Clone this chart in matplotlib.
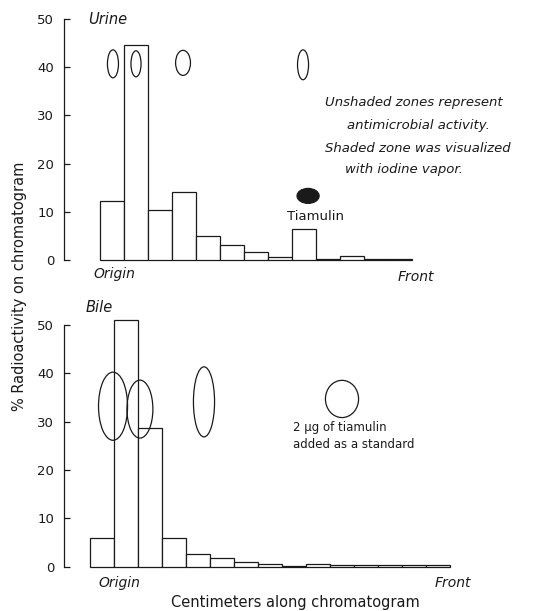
"""Distribution of radioactivity along chromatograms of urine and bile."""

import matplotlib
matplotlib.use('Agg')
import matplotlib.pyplot as plt
from matplotlib.patches import Ellipse

# Radioactivity (% on chromatogram) per 1-cm strip, origin -> front
urine_pct = [12.3, 44.6, 10.3, 14.2, 5.0, 3.2, 1.6, 0.7, 6.5, 0.3, 0.8, 0.3, 0.3]
bile_pct = [6.0, 51.0, 28.7, 6.0, 2.7, 1.7, 1.0, 0.5, 0.2, 0.55, 0.4, 0.4, 0.4, 0.35, 0.35]
y_ticks = [0, 10, 20, 30, 40, 50]

W, H = 533, 611
LINE = '#1a1a1a'
plt.rcParams['font.family'] = 'DejaVu Sans'


def px_rect(left, top, right, bottom):
    """Convert a pixel box (image coords, origin top-left) to figure fractions."""
    return [left / W, 1 - bottom / H, (right - left) / W, (bottom - top) / H]


def fig_text(fig, x, y, s, **kw):
    kw.setdefault('va', 'center')
    kw.setdefault('color', LINE)
    fig.text(x / W, 1 - y / H, s, **kw)


def style_axis(ax):
    for side in ('top', 'right', 'bottom'):
        ax.spines[side].set_visible(False)
    ax.spines['left'].set_bounds(0, 50)
    ax.spines['left'].set_color(LINE)
    ax.spines['left'].set_linewidth(0.9)
    ax.set_yticks(y_ticks)
    ax.tick_params(axis='y', direction='in', length=4, width=0.9,
                   colors=LINE, labelsize=9.5, pad=7)
    ax.set_xticks([])


def draw_bars(ax, values):
    ax.bar(range(len(values)), values, width=1.0, align='edge',
           facecolor='white', edgecolor=LINE, linewidth=0.9)


def zone(ax, x, y, w, h, filled=False):
    ax.add_patch(Ellipse((x, y), w, h,
                         facecolor=LINE if filled else 'none',
                         edgecolor=LINE, linewidth=0.9, zorder=3))


fig = plt.figure(figsize=(W / 100, H / 100), dpi=100)
fig.patch.set_facecolor('white')

# ---- Urine panel ----
ax1 = fig.add_axes(px_rect(64, 10, 510, 275))
draw_bars(ax1, urine_pct)
ax1.set_xlim(-36 / 24, -36 / 24 + 446 / 24)
ax1.set_ylim(-15 / 4.82, 50 + 9 / 4.82)
style_axis(ax1)
zone(ax1, 0.54, 40.7, 0.46, 5.8)
zone(ax1, 1.50, 40.7, 0.42, 5.4)
zone(ax1, 3.46, 40.9, 0.62, 5.2)
zone(ax1, 8.46, 40.5, 0.46, 6.2)
zone(ax1, 8.67, 13.3, 0.92, 3.1, filled=True)

# ---- Bile panel ----
ax2 = fig.add_axes(px_rect(64, 300, 510, 580))
draw_bars(ax2, bile_pct)
ax2.set_xlim(-26 / 24, -26 / 24 + 446 / 24)
ax2.set_ylim(-13.3 / 4.834, 50 + 25 / 4.834)
style_axis(ax2)
zone(ax2, 0.96, 33.2, 1.21, 14.1)
zone(ax2, 2.08, 32.6, 1.08, 12.0)
zone(ax2, 4.75, 34.1, 0.88, 14.5)
zone(ax2, 10.5, 34.7, 1.38, 7.7)

# ---- Labels ----
fig_text(fig, 88, 20, 'Urine', fontsize=10.5, style='italic')
fig_text(fig, 93, 274, 'Origin', fontsize=10, style='italic')
fig_text(fig, 398, 277, 'Front', fontsize=10, style='italic')
fig_text(fig, 287, 217, 'Tiamulin', fontsize=9.5)
fig_text(fig, 325, 103, 'Unshaded zones represent', fontsize=9.5, style='italic')
fig_text(fig, 347, 125, 'antimicrobial activity.', fontsize=9.5, style='italic')
fig_text(fig, 325, 148, 'Shaded zone was visualized', fontsize=9.5, style='italic')
fig_text(fig, 345, 170, 'with iodine vapor.', fontsize=9.5, style='italic')

fig_text(fig, 86, 308, 'Bile', fontsize=10.5, style='italic')
fig_text(fig, 293, 428, '2 μg of tiamulin', fontsize=8.5)
fig_text(fig, 293, 445, 'added as a standard', fontsize=8.5)
fig_text(fig, 98, 583, 'Origin', fontsize=10, style='italic')
fig_text(fig, 435, 583, 'Front', fontsize=10, style='italic')
fig_text(fig, 295, 603, 'Centimeters along chromatogram', fontsize=10.5, ha='center')
fig_text(fig, 20, 286, '% Radioactivity on chromatogram', fontsize=10.5,
         ha='center', rotation=90)

fig.savefig('out.png', dpi=100, facecolor='white')
